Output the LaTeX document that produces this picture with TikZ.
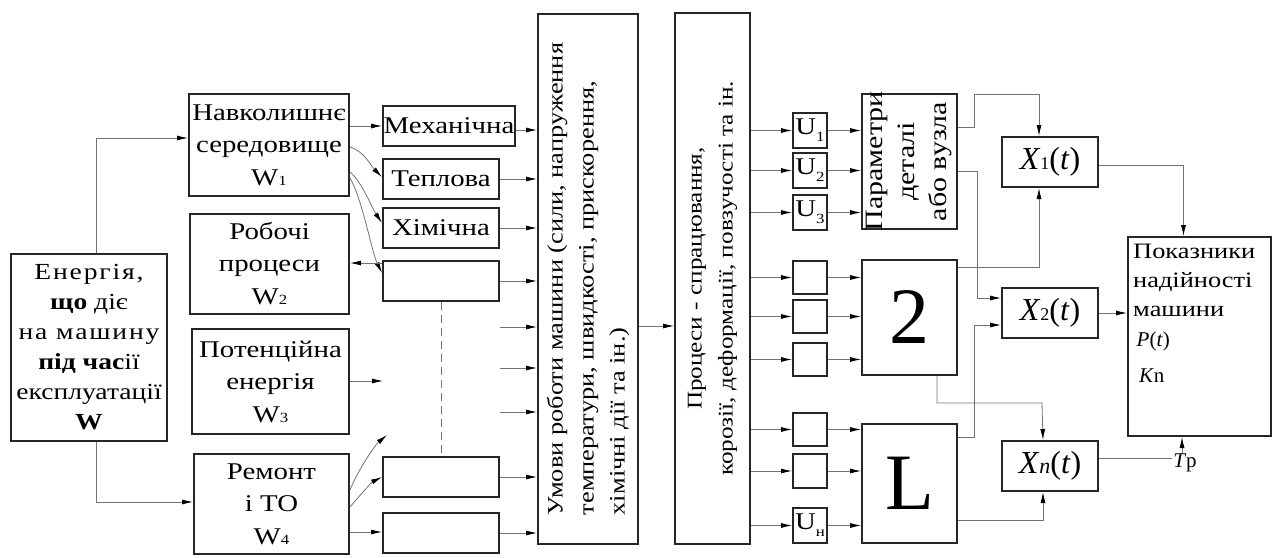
\documentclass[tikz,border=0pt]{standalone}
\usepackage{fontspec}
\setmainfont{Liberation Serif}[FakeStretch=1.2]
\newfontfamily\plainrm{Liberation Serif}
\usetikzlibrary{arrows.meta,positioning,calc}

\newcommand{\wsub}[1]{{\fontsize{14}{14}\selectfont #1}}
\newcommand{\usub}[1]{\raisebox{-7pt}{\fontsize{14}{14}\selectfont #1}}
\newcommand{\wide}[1]{{\addfontfeatures{LetterSpace=8}#1}}

\begin{document}
\begin{tikzpicture}[
    x=1pt, y=-1pt,
    font=\fontsize{24}{30}\selectfont,
    blk/.style={draw=black!85, line width=2pt, inner sep=0pt, align=center, anchor=north west},
    wire/.style={draw=black!55, line width=0.8pt},
    arr/.style={wire, -{Latex[length=11pt,width=5pt,color=black]}},
    mblk/.style={blk, minimum width=116pt, minimum height=40pt},
    ublk/.style={blk, minimum width=34pt, minimum height=34pt},
    xblk/.style={blk, minimum width=96pt, minimum height=50pt, font=\plainrm\fontsize{32}{32}\selectfont},
    big/.style={font=\plainrm\fontsize{80}{80}\selectfont}
]
\useasboundingbox (0,0) rectangle (1274,557);

% sources of energy
\node[blk, minimum width=156pt, minimum height=187pt, font=\fontsize{23}{30}\selectfont] (energy) at (10,253)
  {\wide{Енергія,}\\ \textbf{що} діє\\ \wide{на машину}\\ \textbf{під час}ії\\ експлуатації\\ \textbf{W}};
\node[blk, minimum width=160pt, minimum height=102pt] (navk) at (188,93) {Навколишнє\\[2pt] середовище\\[3pt] W\wsub{1}};
\node[blk, minimum width=159pt, minimum height=100pt] (rob) at (189,213) {Робочі\\[2pt] процеси\\[3pt] W\wsub{2}};
\node[blk, minimum width=157pt, minimum height=105pt] (pot) at (191,328) {Потенційна\\[2pt] енергія\\[3pt] W\wsub{3}};
\node[blk, minimum width=155pt, minimum height=100pt] (remont) at (193,453) {Ремонт\\[2pt] і ТО\\[3pt] W\wsub{4}};

% kinds of energy
\node[blk, minimum width=132pt, minimum height=40pt] (mech) at (382,105) {Механічна};
\node[mblk] (tepl) at (382,158) {Теплова};
\node[mblk] (khim) at (382,207) {Хімічна};
\node[mblk] (b4) at (382,260) {};
\node[mblk] (b5) at (382,456) {};
\node[mblk] (b6) at (382,512) {};
\coordinate (potfree) at (383,381);
\coordinate (remfree) at (387,435);

% working conditions and processes
\node[blk, minimum width=100pt, minimum height=530pt] (umovy) at (537,13) {};
\node[rotate=90, align=left, font=\fontsize{22}{31}\selectfont] at (umovy.center)
  {Умови роботи машини (сили, напруження\\ температури, швидкості, прискорення,\\ хімічні дії та ін.)};
\node[blk, minimum width=75pt, minimum height=531pt] (prots) at (674,12) {};
\node[rotate=90, align=center, font=\fontsize{21}{31}\selectfont] at (prots.center)
  {Процеси - спрацювання,\\ корозії, деформації, повзучості та ін.};

% elements
\node[ublk, minimum height=35pt] (u1) at (792,112) {U\usub{1}};
\node[ublk, minimum height=35pt] (u2) at (792,152) {U\usub{2}};
\node[ublk, minimum height=35pt] (u3) at (792,194) {U\usub{3}};
\node[ublk, minimum height=33pt] (c1) at (792,260) {};
\node[ublk, minimum height=33pt] (c2) at (792,299) {};
\node[ublk, minimum height=33pt] (c3) at (792,342) {};
\node[ublk, minimum height=33pt] (d1) at (792,412) {};
\node[ublk, minimum height=34pt] (d2) at (792,453) {};
\node[ublk, minimum height=35pt] (d3) at (792,507) {U\usub{н}};

\node[blk, minimum width=95pt, minimum height=135pt] (param) at (861,93) {};
\node[rotate=90, align=center, font=\fontsize{25}{32}\selectfont] at (param.center) {Параметри\\ деталі\\ або вузла};
\node[blk, big, minimum width=95pt, minimum height=115pt] (two) at (861,259) {2};
\node[blk, big, minimum width=95pt, minimum height=119pt] (ell) at (861,423) {L};

% output parameters
\node[xblk] (x1) at (1001,136) {\textit{X}{\fontsize{18}{18}\selectfont 1}(\textit{t})};
\node[xblk] (x2) at (1001,287) {\textit{X}{\fontsize{18}{18}\selectfont 2}(\textit{t})};
\node[xblk] (xn) at (1001,440) {\textit{X}{\fontsize{22}{22}\selectfont\textit{n}}(\textit{t})};
\node[blk, minimum width=143pt, minimum height=199pt] (pok) at (1127,236) {};
\node[anchor=north west, align=left, inner sep=0pt, font=\fontsize{22}{29}\selectfont]
  at ([xshift=6pt,yshift=-8pt]pok.north west)
  {Показники\\ надійності\\ машини\\[1pt] {\plainrm\fontsize{21}{21}\selectfont\,\textit{P}(\textit{t})}\\[7pt]
   {\plainrm\fontsize{21}{21}\selectfont\;\textit{K}n}};
\node[inner sep=1pt, font=\plainrm\fontsize{21}{21}\selectfont] (tp) at (1185,463) {\textit{T}р};

% connectors on the left
\draw[arr] ([xshift=7pt]energy.north) |- (navk.west |- 0,138);
\draw[arr] ([xshift=7pt]energy.south) |- (remont.west |- 0,502);
\draw[arr] (navk.east |- 0,126) -- (mech.west |- 0,126);
\draw[arr] (navk.east |- 0,147) .. controls +(15,5) and +(-12,-12) .. (tepl.west |- 0,177);
\draw[arr] (navk.east |- 0,172) .. controls +(12,10) and +(-10,-15) .. (khim.west |- 0,223);
\draw[arr] (navk.east |- 0,178) .. controls +(12,20) and +(-10,-20) .. (b4.west |- 0,273);
\draw[arr] (b4.west |- 0,263) -- (rob.east |- 0,263);
\draw[arr] (pot.east |- potfree) -- (potfree);
\draw[arr] (remont.east |- 0,490) .. controls +(8,-20) and +(-12,10) .. (remfree);
\draw[arr] (remont.east |- 0,507) .. controls +(10,-12) and +(-10,5) .. (b5.west |- 0,477);
\draw[arr] (remont.east |- 0,532) -- (b6.west |- 0,532);
\draw[wire, dashed, dash pattern=on 8pt off 5pt] (b4.south) -- (b5.north);

% into the conditions box
\draw[arr] (mech.east |- 0,130) -- (umovy.west |- 0,130);
\foreach \k in {tepl,khim,b4,b5,b6}
  \draw[arr] (\k.east) -- (\k.east -| umovy.west);
\foreach \yy in {327,368,412}
  \draw[arr] (b4.east |- 0,\yy) -- (umovy.west |- 0,\yy);
\draw[arr] (umovy.east |- 0,326) -- (prots.west |- 0,326);

% processes to elements
\foreach \u in {u1,u2,u3,c1,c2,c3,d1,d2,d3}
  \draw[arr] (\u.west -| prots.east) -- (\u.west);
\foreach \u in {u1,u2,u3}
  \draw[arr] (\u.east) -- (\u.east -| param.west);
\foreach \u in {c1,c2,c3}
  \draw[arr] (\u.east) -- (\u.east -| two.west);
\foreach \u in {d1,d2,d3}
  \draw[arr] (\u.east) -- (\u.east -| ell.west);

% to the output parameters
\draw[arr] (param.east |- 0,127) -| (974,94) -| ([xshift=-11pt]x1.north);
\draw[arr] (param.east |- 0,171) -| (977,298) -- (x2.west |- 0,298);
\draw[arr] (two.east |- 0,267) -| ([xshift=-11pt]x1.south);
\draw[arr] (ell.east |- 0,437) -| (974,325) -- (x2.west |- 0,325);
\draw[arr] (two.south -| 937,0) |- (1042,403) -- ([xshift=-7pt]xn.north);
\draw[arr] (ell.east |- 0,520) -| ([xshift=-7pt]xn.south);
\draw[arr] (x1.east |- 0,165) -| ([xshift=-16pt]pok.north);
\draw[arr] (x2.east |- 0,313) -- (pok.west |- 0,313);
\draw[wire] (xn.east |- 0,458) -- (tp.west |- 0,458);
\draw[arr] (tp.north -| 1182,0) -- (pok.south -| 1182,0);
\end{tikzpicture}
\end{document}
